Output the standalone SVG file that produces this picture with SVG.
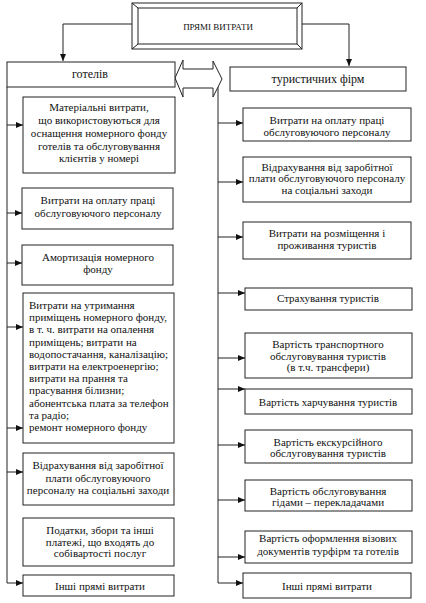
<svg xmlns="http://www.w3.org/2000/svg" width="426" height="603" viewBox="0 0 426 603">
<style>
.b{fill:#fff;stroke:#222;stroke-width:1}
.c{fill:none;stroke:#222;stroke-width:1}
text{font-family:"Liberation Serif","Times New Roman",serif;font-size:11px;fill:#111}
.m{text-anchor:middle}
.h{font-size:12px}
.t{font-size:9px}
</style>
<defs>
<marker id="a" markerUnits="userSpaceOnUse" markerWidth="8" markerHeight="7" refX="7" refY="3.5" orient="auto">
<path d="M0,0.5 L7,3.5 L0,6.5 z" fill="#111"/>
</marker>
</defs>
<rect width="426" height="603" fill="#fff"/>
<g id="connectors">
<path class="c" d="M132,24 H63 V61" marker-end="url(#a)"/>
<path class="c" d="M302,24 H349 V66" marker-end="url(#a)"/>
<path class="c" d="M7,87 V583 H23" marker-end="url(#a)"/>
<path class="c" d="M7,125 H23" marker-end="url(#a)"/>
<path class="c" d="M7,213 H22" marker-end="url(#a)"/>
<path class="c" d="M7,263 H22" marker-end="url(#a)"/>
<path class="c" d="M7,327 H23" marker-end="url(#a)"/>
<path class="c" d="M7,428 H23" marker-end="url(#a)"/>
<path class="c" d="M7,472 H23" marker-end="url(#a)"/>
<path class="c" d="M218,87 V583 H243" marker-end="url(#a)"/>
<path class="c" d="M218,123 H243" marker-end="url(#a)"/>
<path class="c" d="M218,182 H243" marker-end="url(#a)"/>
<path class="c" d="M218,237 H243" marker-end="url(#a)"/>
<path class="c" d="M218,293 H245" marker-end="url(#a)"/>
<path class="c" d="M218,358 H245" marker-end="url(#a)"/>
<path class="c" d="M218,389 H245" marker-end="url(#a)"/>
<path class="c" d="M218,445 H245" marker-end="url(#a)"/>
<path class="c" d="M218,500 H245" marker-end="url(#a)"/>
<path class="c" d="M218,557 H245" marker-end="url(#a)"/>
<path class="b" d="M175,78 L183,60 V69 H213 V61 L222,79 L213,97 V88 H183 V97 Z"/>
</g>
<g id="top">
<rect class="b" x="132" y="3" width="170" height="46"/>
<rect class="b" x="138" y="8" width="159" height="36"/>
<path class="c" d="M132,3 L138,8 M302,3 L297,8 M132,49 L138,44 M302,49 L297,44"/>
<text class="m t" x="218" y="30">ПРЯМІ ВИТРАТИ</text>
</g>
<g id="hotels">
<rect class="b" x="7" y="62" width="168" height="25"/>
<text class="m h" x="90" y="78">готелів</text>
</g>
<g id="firms">
<rect class="b" x="230" y="67" width="176" height="24"/>
<text class="m h" x="318" y="83">туристичних фірм</text>
</g>
<g id="l1">
<rect class="b" x="23" y="97" width="152" height="76"/>
<text class="m" x="99" y="111">Матеріальні витрати,</text>
<text class="m" x="99" y="124">що використовуються для</text>
<text class="m" x="99" y="137">оснащення номерного фонду</text>
<text class="m" x="99" y="150">готелів та обслуговування</text>
<text class="m" x="99" y="162">клієнтів у номері</text>
</g>
<g id="l2">
<rect class="b" x="22" y="188" width="151" height="41"/>
<text class="m" x="98" y="204">Витрати на оплату праці</text>
<text class="m" x="98" y="217">обслуговуючого персоналу</text>
</g>
<g id="l3">
<rect class="b" x="22" y="245" width="151" height="40"/>
<text class="m" x="98" y="261">Амортизація номерного</text>
<text class="m" x="98" y="273">фонду</text>
</g>
<g id="l4">
<rect class="b" x="23" y="293" width="151" height="150"/>
<text x="29" y="309">Витрати на утримання</text>
<text x="29" y="321.2">приміщень номерного фонду,</text>
<text x="29" y="333.4">в т. ч. витрати на опалення</text>
<text x="29" y="345.6">приміщень; витрати на</text>
<text x="29" y="357.8">водопостачання, каналізацію;</text>
<text x="29" y="370">витрати на електроенергію;</text>
<text x="29" y="382.2">витрати на прання та</text>
<text x="29" y="394.4">прасування білизни;</text>
<text x="29" y="406.6">абонентська плата за телефон</text>
<text x="29" y="418.8">та радіо;</text>
<text x="29" y="431">ремонт номерного фонду</text>
</g>
<g id="l5">
<rect class="b" x="23" y="453" width="151" height="52"/>
<text class="m" x="98" y="469">Відрахування від заробітної</text>
<text class="m" x="98" y="482">плати обслуговуючого</text>
<text class="m" x="98" y="494">персоналу на соціальні заходи</text>
</g>
<g id="l6">
<rect class="b" x="23" y="518" width="151" height="48"/>
<text class="m" x="100" y="534">Податки, збори та інші</text>
<text class="m" x="100" y="546">платежі, що входять до</text>
<text class="m" x="100" y="557">собівартості послуг</text>
</g>
<g id="l7">
<rect class="b" x="23" y="575" width="151" height="21"/>
<text class="m" x="100" y="590">Інші прямі витрати</text>
</g>
<g id="r1">
<rect class="b" x="243" y="108" width="168" height="33"/>
<text class="m" x="327" y="124">Витрати на оплату праці</text>
<text class="m" x="327" y="136">обслуговуючого персоналу</text>
</g>
<g id="r2">
<rect class="b" x="243" y="157" width="168" height="45"/>
<text class="m" x="327" y="171">Відрахування від заробітної</text>
<text class="m" x="327" y="182">плати обслуговуючого персоналу</text>
<text class="m" x="327" y="194">на соціальні заходи</text>
</g>
<g id="r3">
<rect class="b" x="243" y="222" width="168" height="37"/>
<text class="m" x="327" y="237">Витрати на розміщення і</text>
<text class="m" x="327" y="249">проживання туристів</text>
</g>
<g id="r4">
<rect class="b" x="245" y="288" width="167" height="22"/>
<text class="m" x="328" y="302">Страхування туристів</text>
</g>
<g id="r5">
<rect class="b" x="245" y="333" width="167" height="45"/>
<text class="m" x="328" y="348">Вартість транспортного</text>
<text class="m" x="328" y="360">обслуговування туристів</text>
<text class="m" x="328" y="371">(в т.ч. трансфери)</text>
</g>
<g id="r6">
<rect class="b" x="245" y="389" width="167" height="25"/>
<text class="m" x="328" y="406">Вартість харчування туристів</text>
</g>
<g id="r7">
<rect class="b" x="245" y="430" width="167" height="33"/>
<text class="m" x="328" y="446">Вартість екскурсійного</text>
<text class="m" x="328" y="457">обслуговування туристів</text>
</g>
<g id="r8">
<rect class="b" x="245" y="480" width="167" height="31"/>
<text class="m" x="328" y="495">Вартість обслуговування</text>
<text class="m" x="328" y="506">гідами – перекладачами</text>
</g>
<g id="r9">
<rect class="b" x="245" y="531" width="167" height="32"/>
<text class="m" x="328" y="542">Вартість оформлення візових</text>
<text class="m" x="328" y="555">документів  турфірм та готелів</text>
</g>
<g id="r10">
<rect class="b" x="243" y="573" width="168" height="25"/>
<text class="m" x="327" y="590">Інші прямі витрати</text>
</g>
</svg>
